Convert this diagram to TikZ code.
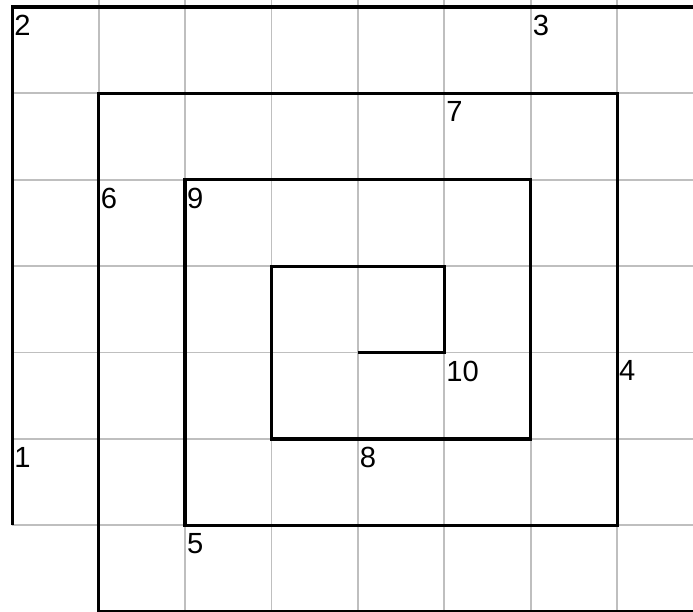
\documentclass[tikz,border=0pt]{standalone}
\usepackage{fontspec}
\setmainfont{Liberation Sans}
\tikzset{
  gridline/.style={draw=black!25, line width=0.6pt},
  spiral/.style={draw=black, line width=1.05pt, line join=miter},
  ptlabel/.style={anchor=north west, inner sep=0pt, xshift=0.017cm, yshift=-0.087cm, font=\fontsize{9.6}{11}\selectfont}
}
\begin{document}
\begin{tikzpicture}
\useasboundingbox (-0.142,0.008) rectangle (7.878,7.080);
\fill[white] (-0.142,0.008) rectangle (7.878,7.080);
% grid
\foreach \x in {1,...,7} \draw[gridline] (\x,0) -- (\x,7.2);
\foreach \y in {1,...,7} \draw[gridline] (0,\y) -- (8,\y);
% coordinates
\coordinate (p1) at (0,2);
\coordinate (p2) at (0,7);
\coordinate (p3) at (6,7);
\coordinate (p4) at (7,3);
\coordinate (p5) at (2,1);
\coordinate (p6) at (1,5);
\coordinate (p7) at (5,6);
\coordinate (p8) at (4,2);
\coordinate (p9) at (2,5);
\coordinate (p10) at (5,3);
% spiral
\draw[spiral] (0,1) -- (p2) -- (8,7) -- (8,0) -- (1,0) -- (1,6) -- (7,6) -- (7,1)
  -- (p5) -- (p9) -- (6,5) -- (6,2) -- (3,2) -- (3,4) -- (5,4) -- (p10) -- (4,3);
% labels
\node[ptlabel] (l1) at (p1) {1};
\node[ptlabel] (l2) at (p2) {2};
\node[ptlabel] (l3) at (p3) {3};
\node[ptlabel] (l4) at (p4) {4};
\node[ptlabel] (l5) at (p5) {5};
\node[ptlabel] (l6) at (p6) {6};
\node[ptlabel] (l7) at (p7) {7};
\node[ptlabel] (l8) at (p8) {8};
\node[ptlabel] (l9) at (p9) {9};
\node[ptlabel] (l10) at (p10) {10};
\end{tikzpicture}
\end{document}
